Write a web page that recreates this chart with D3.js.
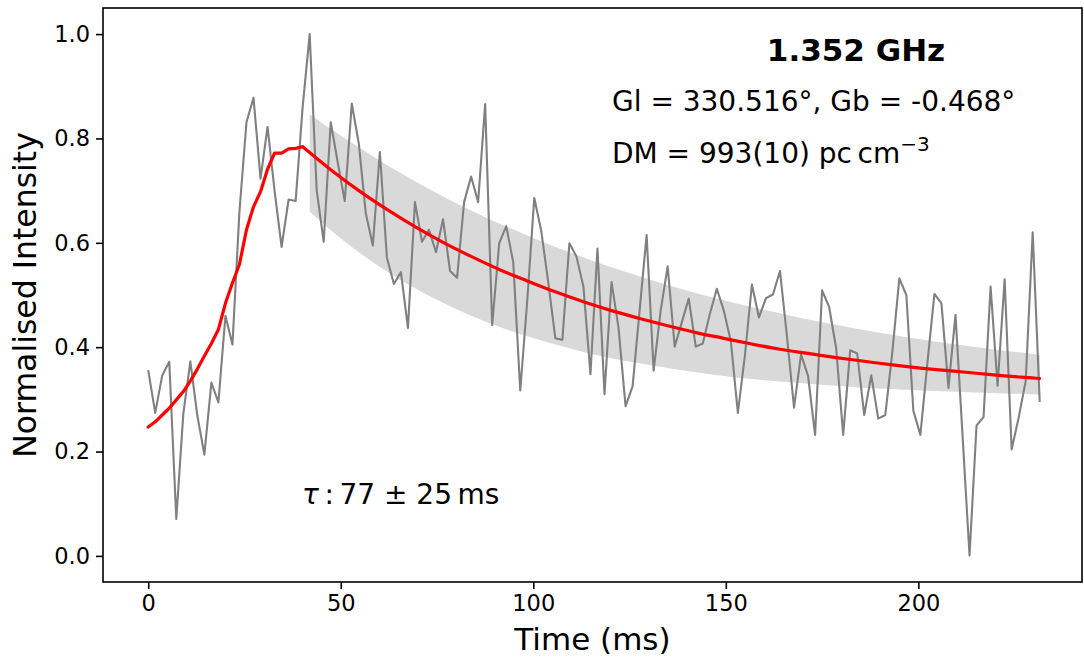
<!DOCTYPE html>
<html>
<head>
<meta charset="utf-8">
<script src="https://cdn.jsdelivr.net/npm/d3@7"></script>
<style>
  html, body { margin: 0; padding: 0; background: #fff; }
  svg text { font-family: "DejaVu Sans", sans-serif; fill: #000; }
</style>
</head>
<body>
<svg id="chart" width="1084" height="660"></svg>
<script>
// ---- data ----
const timeStep = 1.823; // ms per bin
const intensity = [
  0.356,0.274,0.346,0.372,0.071,0.272,0.373,0.269,0.194,0.332,
  0.294,0.460,0.405,0.661,0.831,0.878,0.723,0.822,0.700,0.592,
  0.683,0.680,0.860,1.000,0.701,0.602,0.831,0.754,0.680,0.867,
  0.790,0.656,0.595,0.774,0.572,0.521,0.544,0.437,0.678,0.602,
  0.625,0.582,0.645,0.546,0.533,0.678,0.727,0.678,0.866,0.442,
  0.599,0.632,0.563,0.317,0.490,0.686,0.622,0.523,0.417,0.414,
  0.599,0.574,0.516,0.348,0.589,0.310,0.525,0.437,0.287,0.325,
  0.470,0.615,0.355,0.470,0.555,0.401,0.447,0.493,0.401,0.407,
  0.463,0.512,0.470,0.411,0.274,0.384,0.520,0.457,0.494,0.501,
  0.546,0.420,0.284,0.386,0.345,0.232,0.509,0.477,0.398,0.232,
  0.394,0.388,0.270,0.346,0.263,0.270,0.390,0.532,0.500,0.278,
  0.232,0.370,0.502,0.484,0.322,0.462,0.232,0.001,0.250,0.266,
  0.516,0.326,0.530,0.204,0.265,0.335,0.620,0.295
];
// fitted model: rising part, one value per bin (bins 0..22)
const fitRise = [
  0.247,0.257,0.270,0.283,0.299,0.315,0.335,0.358,0.383,0.407,
  0.434,0.484,0.523,0.559,0.625,0.669,0.698,0.741,0.772,0.772,
  0.780,0.781,0.784
];
// decaying part of the fit
const decayBins = [22,26,30,34,38,42,46,50,54,58,62,66,70,74,78,82,86,90,94,98,102,106,110,114,118,122,126,127];
const fitDecay = [0.784,0.740,0.700,0.664,0.631,0.601,0.574,0.549,0.527,0.506,0.487,0.470,0.455,0.441,0.428,0.417,0.406,0.396,0.388,0.380,0.373,0.366,0.360,0.355,0.350,0.345,0.341,0.340];
// uncertainty band
const bandBins = [23,26,30,34,38,42,46,50,54,58,62,66,70,74,78,82,86,90,94,98,102,106,110,114,118,122,126,127];
const bandUpper = [0.847,0.818,0.783,0.749,0.718,0.689,0.662,0.637,0.614,0.592,0.572,0.553,0.536,0.519,0.504,0.490,0.477,0.465,0.453,0.443,0.433,0.424,0.415,0.407,0.400,0.393,0.387,0.385];
const bandLower = [0.660,0.624,0.582,0.545,0.513,0.485,0.460,0.439,0.421,0.405,0.391,0.379,0.369,0.360,0.352,0.345,0.339,0.334,0.330,0.326,0.322,0.320,0.317,0.315,0.313,0.311,0.310,0.309];

const xTicks = [0, 50, 100, 150, 200];
const yTicks = [0.0, 0.2, 0.4, 0.6, 0.8, 1.0];
const xDomain = [-11.74, 242.5];
const yDomain = [-0.05, 1.05];

const titleText = "1.352 GHz";
const coordText = "Gl = 330.516°, Gb = -0.468°";
const xLabel = "Time (ms)";
const yLabel = "Normalised Intensity";

// ---- layout ----
const svg = d3.select("#chart");
const L = 103, R = 1082, T = 8, B = 582;
const x = d3.scaleLinear().domain(xDomain).range([L, R]);
const y = d3.scaleLinear().domain(yDomain).range([B, T]);

// band
const band = bandBins.map((b, i) => ({t: b * timeStep, lo: bandLower[i], hi: bandUpper[i]}));
svg.append("path")
  .datum(band)
  .attr("fill", "#d9d9d9")
  .attr("stroke", "none")
  .attr("d", d3.area().x(d => x(d.t)).y0(d => y(d.lo)).y1(d => y(d.hi)).curve(d3.curveMonotoneX));

// data line
const pts = intensity.map((v, i) => ({t: i * timeStep, v}));
svg.append("path")
  .datum(pts)
  .attr("fill", "none")
  .attr("stroke", "#808080")
  .attr("stroke-width", 2.1)
  .attr("stroke-linejoin", "round")
  .attr("d", d3.line().x(d => x(d.t)).y(d => y(d.v)));

// fit line
const risePts = fitRise.map((v, i) => ({t: i * timeStep, v}));
const decayPts = decayBins.map((b, i) => ({t: b * timeStep, v: fitDecay[i]}));
svg.append("path")
  .datum(risePts)
  .attr("fill", "none")
  .attr("stroke", "#ff0000")
  .attr("stroke-width", 3.2)
  .attr("stroke-linejoin", "round")
  .attr("stroke-linecap", "round")
  .attr("d", d3.line().x(d => x(d.t)).y(d => y(d.v)));
svg.append("path")
  .datum(decayPts)
  .attr("fill", "none")
  .attr("stroke", "#ff0000")
  .attr("stroke-width", 3.2)
  .attr("stroke-linecap", "round")
  .attr("d", d3.line().x(d => x(d.t)).y(d => y(d.v)).curve(d3.curveMonotoneX));

// frame
svg.append("rect")
  .attr("x", L).attr("y", T).attr("width", R - L).attr("height", B - T)
  .attr("fill", "none").attr("stroke", "#000").attr("stroke-width", 1.6);

// axes
const xAxis = d3.axisBottom(x).tickValues(xTicks).tickSize(7).tickPadding(6).tickFormat(d3.format("d"));
const gx = svg.append("g").attr("transform", `translate(0,${B})`).call(xAxis);
const yAxis = d3.axisLeft(y).tickValues(yTicks).tickSize(7).tickPadding(6).tickFormat(d3.format(".1f"));
const gy = svg.append("g").attr("transform", `translate(${L},0)`).call(yAxis);
[gx, gy].forEach(g => {
  g.select(".domain").remove();
  g.selectAll(".tick line").attr("stroke", "#000").attr("stroke-width", 1.6);
  g.selectAll(".tick text").attr("font-size", 22.5).attr("font-family", "DejaVu Sans").attr("fill", "#000");
});

// axis labels
svg.append("text")
  .attr("x", (L + R) / 2).attr("y", 650)
  .attr("text-anchor", "middle").attr("font-size", 31)
  .text(xLabel);
svg.append("text")
  .attr("transform", `translate(36,${(T + B) / 2}) rotate(-90)`)
  .attr("text-anchor", "middle").attr("font-size", 31.5)
  .text(yLabel);

// annotations
svg.append("text")
  .attr("x", 856).attr("y", 61)
  .attr("text-anchor", "middle").attr("font-size", 31).attr("font-weight", "bold")
  .text(titleText);
svg.append("text")
  .attr("x", 612).attr("y", 111)
  .attr("font-size", 28)
  .text(coordText);
const dm = svg.append("text").attr("x", 612).attr("y", 163).attr("font-size", 28);
dm.append("tspan").text("DM = 993(10) pc\u2009cm");
dm.append("tspan").attr("font-size", 20).attr("dy", -12).text("\u22123");

const tau = svg.append("text").attr("x", 302).attr("y", 504).attr("font-size", 28);
tau.append("tspan").attr("font-style", "italic").text("τ");
tau.append("tspan").text("\u2009:\u200977 ± 25\u2009ms");
</script>
</body>
</html>
